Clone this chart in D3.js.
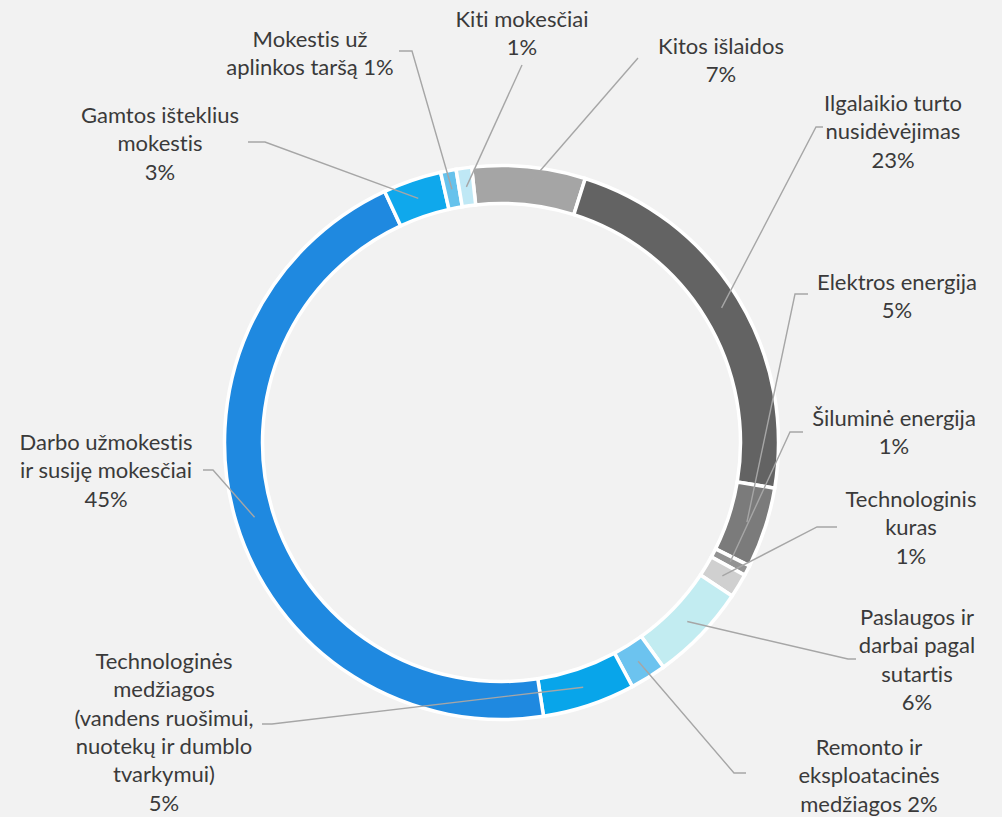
<!DOCTYPE html>
<html>
<head>
<meta charset="utf-8">
<script src="https://cdn.jsdelivr.net/npm/d3@7"></script>
<style>
  body { margin: 0; background: #f2f2f2; }
  svg { display: block; }
  text { font-variant-ligatures: none; font-feature-settings: "liga" 0; }
</style>
</head>
<body>
<div id="chart"></div>
<script>
// slices, clockwise from the top (Kitos išlaidos starts a little left of 12 o'clock)
const categories = [
  "Kitos išlaidos", "Ilgalaikio turto nusidėvėjimas", "Elektros energija",
  "Šiluminė energija", "Technologinis kuras", "Paslaugos ir darbai pagal sutartis",
  "Remonto ir eksploatacinės medžiagos", "Technologinės medžiagos",
  "Darbo užmokestis ir susiję mokesčiai", "Gamtos išteklius mokestis",
  "Mokestis už aplinkos taršą", "Kiti mokesčiai"
];
const values = [6.6, 22.7, 4.7, 0.6, 1.4, 5.7, 2.1, 5.4, 45.4, 3.4, 0.9, 0.9];
const colors = [
  "#a5a5a5", "#636363", "#7b7b7b", "#939393", "#d0d0d0", "#c2ecf1",
  "#6cc3ef", "#08a5ea", "#1f89e0", "#0fa8ec", "#66c2ec", "#bfe8f5"
];
// label text lines; the percentage goes on its own line unless pctInline
const labelLines = [
  ["Kitos išlaidos"],
  ["Ilgalaikio turto", "nusidėvėjimas"],
  ["Elektros energija"],
  ["Šiluminė energija"],
  ["Technologinis", "kuras"],
  ["Paslaugos ir", "darbai pagal", "sutartis"],
  ["Remonto ir", "eksploatacinės", "medžiagos"],
  ["Technologinės", "medžiagos", "(vandens ruošimui,", "nuotekų ir dumblo", "tvarkymui)"],
  ["Darbo užmokestis", "ir susiję mokesčiai"],
  ["Gamtos išteklius", "mokestis"],
  ["Mokestis už", "aplinkos taršą"],
  ["Kiti mokesčiai"]
];
const pctInline = [false, false, false, false, false, false, true, false, false, false, true, false];

// layout: label centre x / first baseline, leader elbow and stub end
const labelPos = [
  [721, 54], [893, 111], [897, 290], [894, 426], [911, 507], [917, 625],
  [869, 755], [164, 669], [106, 450], [160, 123], [310, 47], [522, 27]
];
const leaderElbow = [
  [638, 58], [816, 127], [795, 294], [790, 432], [817, 527], [848, 659],
  [734, 773], [272, 724], [213, 470], [265, 142], [412, 51], [522, 65]
];
const leaderStub = [
  null, [823, 127], [808, 294], [803, 432], [837, 527], [856, 659],
  [746, 773], [262, 724], [203, 470], [248, 142], [399, 51], null
];

const width = 1002;
const height = 817;
const cx = 501.5, cy = 442.5;
const outerR = 277, innerR = 239;
const lineH = 28.3;

const svg = d3.select("#chart")
  .append("svg")
  .attr("width", width)
  .attr("height", height);

svg.append("rect")
  .attr("width", width)
  .attr("height", height)
  .attr("fill", "#f2f2f2");

const data = categories.map((c, i) => ({ name: c, value: values[i], i: i }));

const pie = d3.pie()
  .sort(null)
  .value(d => d.value)
  .startAngle(-6.2 * Math.PI / 180)
  .endAngle((360 - 6.2) * Math.PI / 180);

const arcs = pie(data);

const arc = d3.arc().innerRadius(innerR).outerRadius(outerR);
const midArc = d3.arc().innerRadius(258).outerRadius(258);

const g = svg.append("g").attr("transform", `translate(${cx},${cy})`);

g.selectAll("path.slice")
  .data(arcs)
  .join("path")
  .attr("class", "slice")
  .attr("d", arc)
  .attr("fill", d => colors[d.data.i])
  .attr("stroke", "#ffffff")
  .attr("stroke-width", 3.5)
  .attr("stroke-linejoin", "miter");

// leader lines
const line = d3.line();
svg.append("g")
  .selectAll("path")
  .data(arcs)
  .join("path")
  .attr("fill", "none")
  .attr("stroke", "#a6a6a6")
  .attr("stroke-width", 1.4)
  .attr("d", d => {
    const i = d.data.i;
    const c = midArc.centroid(d);
    const pts = [];
    if (leaderStub[i]) pts.push(leaderStub[i]);
    pts.push(leaderElbow[i]);
    pts.push([c[0] + cx, c[1] + cy]);
    return line(pts);
  });

// labels
const fmt = v => Math.round(v) + "%";
const labels = svg.append("g")
  .attr("font-family", "Lato, 'Open Sans', sans-serif")
  .attr("font-size", 22)
  .attr("fill", "#3a3a3a")
  .attr("text-anchor", "middle");

data.forEach((d, i) => {
  const lines = labelLines[i].slice();
  if (pctInline[i]) lines[lines.length - 1] += " " + fmt(d.value);
  else lines.push(fmt(d.value));
  const t = labels.append("text")
    .attr("x", labelPos[i][0])
    .attr("y", labelPos[i][1]);
  lines.forEach((s, k) => {
    t.append("tspan")
      .attr("x", labelPos[i][0])
      .attr("dy", k === 0 ? 0 : lineH)
      .text(s);
  });
});
</script>
</body>
</html>
